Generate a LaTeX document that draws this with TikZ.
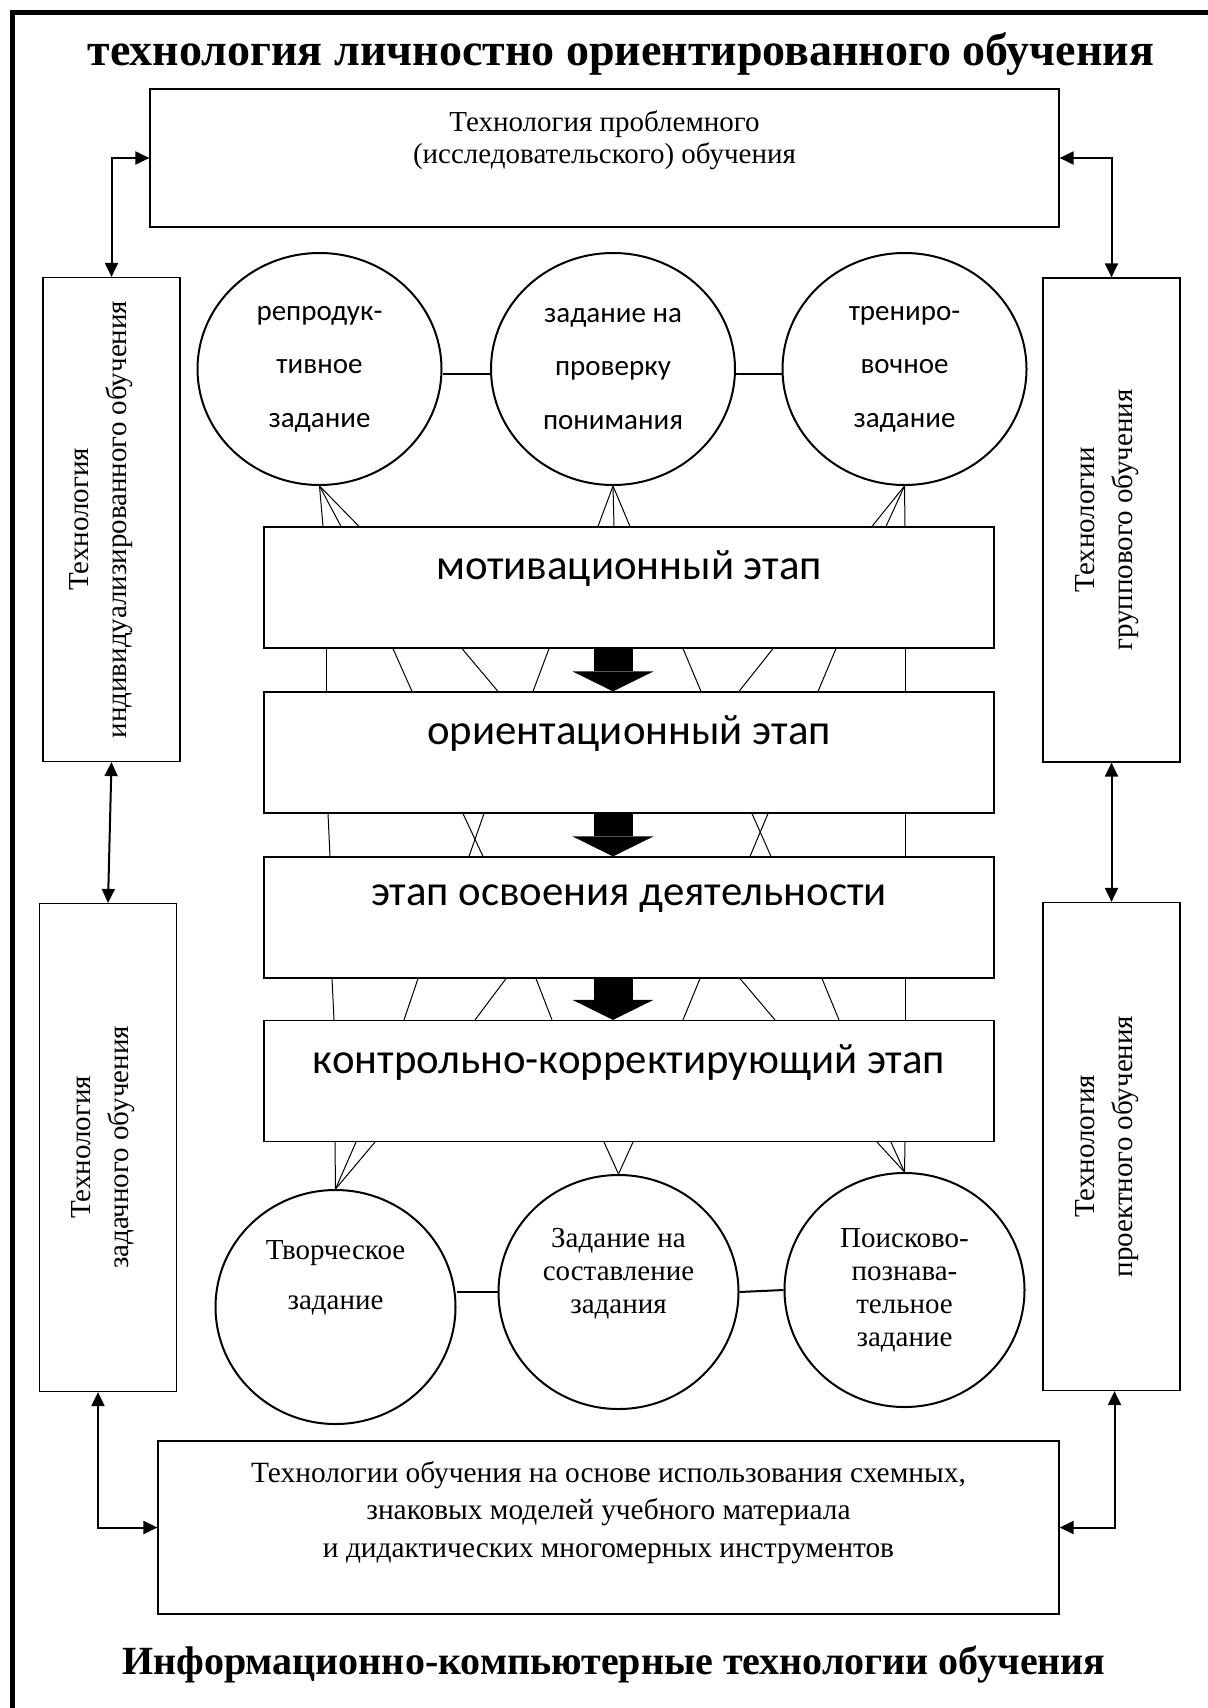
\documentclass[tikz,border=0pt]{standalone}
\usepackage{fontspec}
\setmainfont{Liberation Serif}
\newfontfamily\calibfont{Carlito}
\usetikzlibrary{positioning, shapes.geometric, arrows.meta, calc}

\begin{document}
\begin{tikzpicture}[x=0.5pt, y=-0.5pt,
    box/.style={draw, line width=0.6pt, inner sep=0pt},
    stagebox/.style={box, minimum width=365pt, minimum height=60.5pt, align=center, font=\calibfont\fontsize{21.4}{17}\selectfont},
    sidebox/.style={box, minimum width=68.5pt, minimum height=242pt},
    sidetext/.style={rotate=90, align=center, font=\fontsize{14.5}{19}\selectfont},
    bubble/.style={draw, ellipse, line width=1pt, inner sep=0pt, align=center},
    link/.style={line width=0.5pt},
    duo/.style={{Triangle[length=7pt,width=6.5pt]}-{Triangle[length=7pt,width=6.5pt]}, line width=1pt},
    bigarrow/.style={-{Triangle[length=10pt,width=40.5pt,line width=0pt]}, line width=19.5pt}]
  \useasboundingbox (0,0) rectangle (1207,1708);
  \draw[line width=2.5pt] (12,12) rectangle (1300,1800);

  \node[font=\bfseries\fontsize{23}{26}\selectfont, anchor=base] (title) at (621,65) {технология личностно ориентированного обучения};
  \node[box, minimum width=454.5pt, minimum height=69pt, align=center, font=\fontsize{14.5}{16}\selectfont] (tb) at (604.5,158) {Технология проблемного\\(исследовательского) обучения\\\strut};

  \node[sidebox] (lb1) at (111.5,519.5) {};
  \node[sidetext] (lb1t) at ([xshift=-5pt]lb1.center) {Технология\\индивидуализированного обучения};
  \node[sidebox, minimum height=244pt] (lb2) at (108,1147.5) {};
  \node[sidetext] (lb2t) at ([xshift=-2.5pt]lb2.center) {Технология\\задачного обучения};
  \node[sidebox] (rb1) at (1111.5,520) {};
  \node[sidetext] (rb1t) at ([xshift=-2pt]rb1.center) {Технологии\\группового обучения};
  \node[sidebox, minimum height=244pt] (rb2) at (1111.5,1146.5) {};
  \node[sidetext] (rb2t) at ([xshift=-2pt]rb2.center) {Технология\\проектного обучения};

  \node[bubble, minimum width=122pt, minimum height=116pt, font=\calibfont\fontsize{14.5}{26.75}\selectfont] (r1) at (319.5,369) {репродук-\\тивное\\задание};
  \node[bubble, minimum width=122pt, minimum height=116pt, font=\calibfont\fontsize{14.5}{26.75}\selectfont] (r2) at (613,369) {задание на\\проверку\\понимания};
  \node[bubble, minimum width=122pt, minimum height=116pt, font=\calibfont\fontsize{14.5}{26.75}\selectfont] (r3) at (904.5,369) {трениро-\\вочное\\задание};

  \node[stagebox] (mot) at (629,587.5) {мотивационный этап\\\strut};
  \node[stagebox] (ori) at (629,752.5) {ориентационный этап\\\strut};
  \node[stagebox] (act) at (629,917.5) {этап освоения деятельности\\\strut};
  \node[stagebox] (ctl) at (629,1081) {контрольно-корректирующий этап\\\strut};

  \node[bubble, minimum width=120pt, minimum height=117pt, font=\fontsize{14.5}{25}\selectfont] (b1) at (335.5,1307) {Творческое\\задание\\\strut};
  \node[bubble, minimum width=120pt, minimum height=117pt, font=\fontsize{14.5}{16.5}\selectfont] (b2) at (618.5,1292) {Задание на\\составление\\задания\\\strut};
  \node[bubble, minimum width=120pt, minimum height=117pt, font=\fontsize{14.5}{16.5}\selectfont] (b3) at (904.5,1290) {Поисково-\\познава-\\тельное\\задание};

  \node[box, minimum width=450.5pt, minimum height=86.5pt, align=center, font=\fontsize{14.7}{18.75}\selectfont] (bb) at (608.5,1527.5) {Технологии обучения на основе использования схемных,\\знаковых моделей учебного материала\\и дидактических многомерных инструментов\\[-6pt]\strut};
  \node[font=\bfseries\fontsize{20}{24}\selectfont, anchor=base] (foot) at (614,1674) {Информационно-компьютерные технологии обучения};

  \draw[line width=1pt] ([yshift=-2.5pt]r1.east) -- ([yshift=-2.5pt]r2.west);
  \draw[line width=1pt] ([yshift=-2.5pt]r2.east) -- ([yshift=-2.5pt]r3.west);
  \draw[line width=1pt] (b1.east |- b2.west) -- (b2.west);
  \draw[line width=1pt] (b2.east) -- (b3.west);

  \foreach \x in {323,341,359} \draw[link] (r1.south) -- (\x,0 |- mot.north);
  \foreach \x in {598,614,630} \draw[link] (r2.south) -- (\x,0 |- mot.north);
  \foreach \x in {872,886,905} \draw[link] (r3.south) -- (\x,0 |- mot.north);
  \foreach \a/\b in {326/326,393/412,462/498,549/533,683/701,773/739,836/818,905/905}
    \draw[link] (\a,0 |- mot.south) -- (\b,0 |- ori.north);
  \foreach \a/\b in {328/330,463/483,484/469,752/771,768/750,905/905}
    \draw[link] (\a,0 |- ori.south) -- (\b,0 |- act.north);
  \foreach \a/\b in {332/334,418/404,506/475,536/552,700/683,740/775,822/839,905/905}
    \draw[link] (\a,0 |- act.south) -- (\b,0 |- ctl.north);
  \foreach \x in {335,356,375} \draw[link] (\x,0 |- ctl.south) -- (b1.north);
  \foreach \x in {604,633} \draw[link] (\x,0 |- ctl.south) -- (b2.north);
  \foreach \x in {877,891,905} \draw[link] (\x,0 |- ctl.south) -- (b3.north);

  \coordinate (axis) at (613,0);
  \draw[bigarrow] (mot.south -| axis) -- (ori.north -| axis);
  \draw[bigarrow] (ori.south -| axis) -- (act.north -| axis);
  \draw[bigarrow] (act.south -| axis) -- (ctl.north -| axis);

  \draw[duo] (tb.west) -| (lb1.north);
  \draw[duo] (tb.east) -| (rb1.north);
  \draw[duo] (lb1.south) -- (lb2.north);
  \draw[duo] (rb1.south) -- (rb2.north);
  \draw[duo] ([xshift=-5pt]lb2.south) |- (bb.west);
  \draw[duo] ([xshift=1.5pt]rb2.south) |- (bb.east);
\end{tikzpicture}
\end{document}
